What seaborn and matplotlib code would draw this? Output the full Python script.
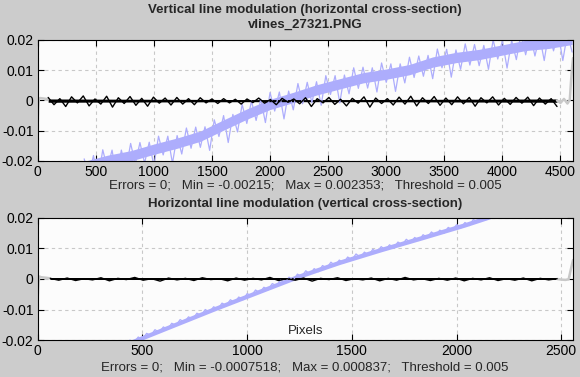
import numpy as np
import matplotlib
matplotlib.use("Agg")
import matplotlib.pyplot as plt
import seaborn as sns

# ---- data (values in units of 1e-4) ----
SCALE = 1e-4

# top panel: vertical line modulation (horizontal cross-section)
top_blue_x = (400, 4600)
top_blue = [-193, -250, -182, -261, -163, -225, -164, -255, -164, -227,
            -142, -210, -139, -207, -138, -216, -118, -180, -118, -208,
            -116, -177, -91, -158, -88, -155, -87, -165, -64, -119,
            -50, -139, -46, -104, -13, -76, -2, -66, 4, -73,
            26, -35, 28, -61, 31, -31, 56, -11, 60, -7,
            62, -16, 82, 20, 82, -8, 84, 22, 108, 40,
            110, 41, 108, 28, 124, 60, 121, 30, 121, 58,
            143, 76, 147, 80, 149, 72, 170, 108, 169, 77,
            167, 103, 187, 117, 185, 115, 182, 103, 200, 137,
            198, 107, 198, 135, 220, 151, 218, 147, 213, 132,
            228, 164, 224, 132, 222, 160]
# dense core of the blue trace, every 200 px
top_core_x = (400, 4600)
top_core_lo = [-235, -215, -200, -178, -158, -135, -98, -62, -30, -7, 18,
               38, 58, 70, 85, 110, 125, 135, 150, 165, 172, 185]
top_core_hi = [-201, -181, -166, -144, -124, -101, -64, -28, 4, 27, 52,
               72, 92, 104, 119, 144, 159, 169, 184, 199, 206, 219]

top_black_x = (90, 4470)
top_black = [10, -14, 6, -20, 12, -8, 15, -18, 5, -12, 14, -22, 9, -10, 13,
             -16, 7, -19, 11, -9, 8, -15, 10, -12, 6, -14, 9, -8, 5,
             -10, 6, -8, 4, -12, 5, -7, 8, -9, 3, -14, 7, -6, 5, -11, 9,
             -20, 6, -8, 10, -13, 4, -18, 7, -9, 12, -22, 8, -10, 6,
             -15, 11, -12, 14, -18, 9, -10, 13, -16, 8, -14, 12, -11, 10, -19,
             9, -8, 12, -15, 7, -13, 10, -9, 11, -17, 8, -12, 6, -20]
top_black_lo = [-6, -5, -4, -4, -5, -6]
top_black_hi = [5, 4, 3, 3, 4, 5]

top_gray_left_x = [0, 5, 10, 20, 40, 60, 90]
top_gray_left = [-75, -20, 5, 8, 7, 6, 4]
top_gray_right_x = [4470, 4500, 4530, 4560, 4580, 4590, 4600, 4608]
top_gray_right = [0, -8, 5, -10, 2, 60, 110, 140]

# bottom panel: horizontal line modulation (vertical cross-section)
bot_blue_x = (440, 2160)
bot_blue = [-200, -208, -190, -198, -178, -185, -166, -175, -157, -165,
            -145, -152, -133, -142, -124, -132, -112, -119, -100, -109,
            -91, -99, -79, -87, -68, -77, -59, -68, -48, -55,
            -36, -45, -27, -35, -15, -22, -3, -12, 6, -4,
            16, 8, 27, 16, 34, 24, 44, 36, 55, 44,
            62, 52, 72, 63, 82, 71, 88, 78, 97, 88,
            106, 95, 112, 102, 121, 112, 130, 119, 136, 126,
            145, 136, 154, 143, 160, 150, 169, 160, 178, 167,
            185, 175, 195, 186, 205, 194, 212]
bot_core_x = [440, 640, 840, 1040, 1240, 1440, 1640, 1840, 2040, 2160]
bot_core_lo = [-216, -161, -106, -53, 0, 47, 89, 129, 170, 197]
bot_core_hi = [-201, -146, -91, -38, 15, 62, 104, 144, 185, 212]

bot_black_x = (60, 2480)
bot_black = [2, -4, 3, -5, 1, -3, 4, -6, 2, -2, 5, -4, 1, -7, 3, -3, 2, -5, 4, -2,
             1, -6, 3, -4, 2, -3, 5, -5, 1, -4, 3, -7, 2, -2, 4, -5, 1, -3, 3, -6,
             2, -4, 5, -3, 1, -5, 2, -4, 3, -6, 2, -3, 4, -5, 1, -4, 3, -6, 2, -3, 1]
bot_black_lo = [-4, -4, -4, -4]
bot_black_hi = [3, 3, 3, 3]

bot_gray_left_x = [0, 4, 8, 15, 25, 40, 60]
bot_gray_left = [-65, -10, 8, 6, 5, 4, 2]
bot_gray_right_x = [2480, 2500, 2520, 2535, 2545, 2556]
bot_gray_right = [0, -2, -3, -1, 30, 62]

titles = ["Vertical line modulation (horizontal cross-section)",
          "Horizontal line modulation (vertical cross-section)"]
file_name = "vlines_27321.PNG"
stats = ["Errors = 0;   Min = -0.00215;   Max = 0.002353;   Threshold = 0.005",
         "Errors = 0;   Min = -0.0007518;   Max = 0.000837;   Threshold = 0.005"]
xlims = [4608, 2556]
xticks = [np.arange(0, 4501, 500), np.arange(0, 2501, 500)]
yticks = [-0.02, -0.01, 0, 0.01, 0.02]
ytick_labels = ["-0.02", "-0.01", "0", "0.01", "0.02"]

BLUE = "#adadfc"
GRAY = "#c8c8c8"
BG = "#cccccc"

sns.set_style("ticks")
plt.rcParams["font.family"] = ["Liberation Sans", "DejaVu Sans"]


def series(xr, vals):
    # samples are evenly spaced pixel positions across the given range
    if isinstance(xr, tuple):
        xs = np.linspace(xr[0], xr[1], len(vals))
    else:
        xs = np.array(xr, dtype=float)
    return xs, np.array(vals) * SCALE


fig = plt.figure(figsize=(5.8, 3.77), dpi=100, facecolor=BG)
ax1 = fig.add_axes([0.065, 0.573, 0.923, 0.321])
ax2 = fig.add_axes([0.065, 0.098, 0.923, 0.324])

panels = [
    dict(ax=ax1, blue=(top_blue_x, top_blue),
         core=(top_core_x, top_core_lo, top_core_hi),
         black=(top_black_x, top_black), black_core=(top_black_lo, top_black_hi),
         gl=(top_gray_left_x, top_gray_left), gr=(top_gray_right_x, top_gray_right)),
    dict(ax=ax2, blue=(bot_blue_x, bot_blue),
         core=(bot_core_x, bot_core_lo, bot_core_hi),
         black=(bot_black_x, bot_black), black_core=(bot_black_lo, bot_black_hi),
         gl=(bot_gray_left_x, bot_gray_left), gr=(bot_gray_right_x, bot_gray_right)),
]

for i, p in enumerate(panels):
    ax = p["ax"]
    ax.set_facecolor("#fcfcfc")

    # blue trace: dense core + spiky line
    cx, clo = series(p["core"][0], p["core"][1])
    _, chi = series(p["core"][0], p["core"][2])
    ax.fill_between(cx, clo, chi, color=BLUE, lw=0)
    bx, by = series(*p["blue"])
    sns.lineplot(x=bx, y=by, ax=ax, color=BLUE, lw=0.9, estimator=None, sort=False)

    # gray end pieces
    for gx, gy in (p["gl"], p["gr"]):
        sns.lineplot(x=np.array(gx), y=np.array(gy) * SCALE, ax=ax, color=GRAY,
                     lw=1.8, estimator=None, sort=False)

    # black trace: thick core + spikes
    kx, ky = series(*p["black"])
    klo_x, klo = series(p["black"][0], p["black_core"][0])
    _, khi = series(p["black"][0], p["black_core"][1])
    ax.fill_between(klo_x, klo, khi, color="black", lw=0)
    sns.lineplot(x=kx, y=ky, ax=ax, color="black", lw=1.0, estimator=None, sort=False)

    ax.set_xlim(0, xlims[i])
    ax.set_ylim(-0.02, 0.02)
    ax.set_xticks(xticks[i])
    ax.set_xticklabels([str(t) for t in xticks[i]])
    ax.set_yticks(yticks)
    ax.set_yticklabels(ytick_labels)
    ax.grid(True, ls=(0, (3, 3)), color="#c8c8c8", lw=0.8)
    ax.tick_params(direction="in", length=4, width=0.8, top=True, right=True,
                   labelsize=10, pad=3, colors="black")
    for s in ax.spines.values():
        s.set_color("black")
        s.set_linewidth(0.8)
    ax.set_xlabel("")
    ax.set_ylabel("")

fig.text(0.526, 0.973, titles[0], ha="center", va="center", fontsize=9.5,
         fontweight="bold")
fig.text(0.526, 0.934, file_name, ha="center", va="center", fontsize=9.5,
         fontweight="bold")
fig.text(0.526, 0.507, stats[0], ha="center", va="center", fontsize=9.5)
fig.text(0.526, 0.459, titles[1], ha="center", va="center", fontsize=9.5,
         fontweight="bold")
fig.text(0.526, 0.024, stats[1], ha="center", va="center", fontsize=9.5)
ax2.text(0.5, 0.075, "Pixels", transform=ax2.transAxes, ha="center",
         va="center", fontsize=9.5)

fig.savefig("out.png", dpi=100, facecolor=BG)
